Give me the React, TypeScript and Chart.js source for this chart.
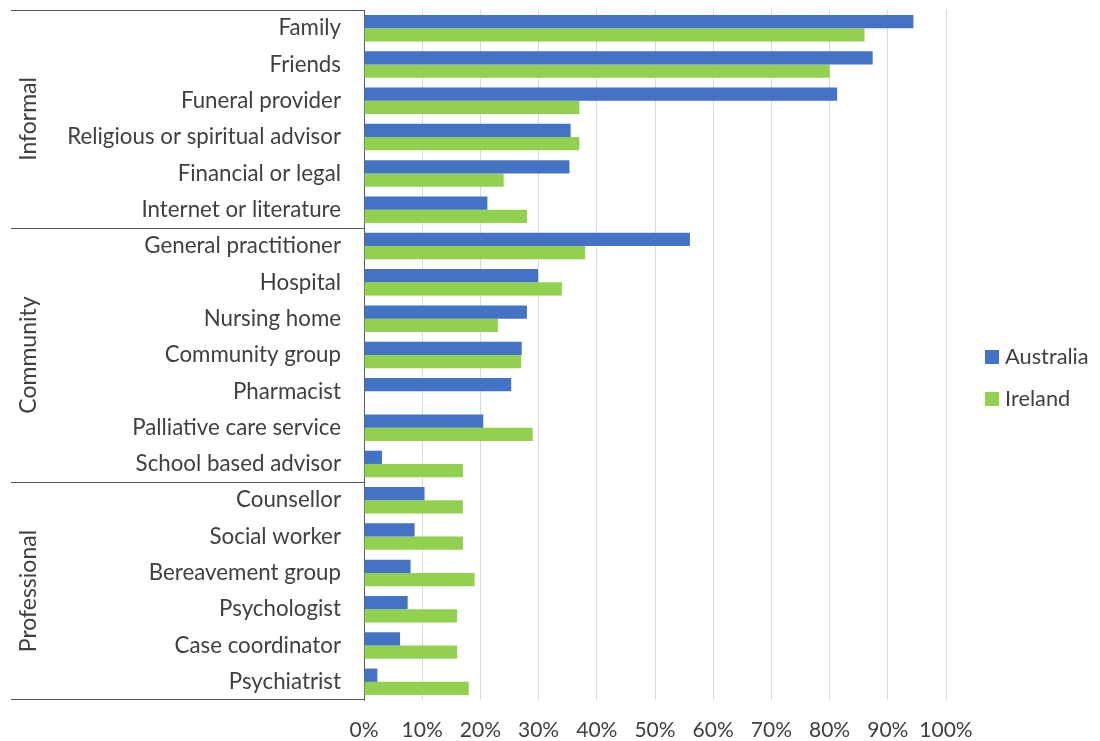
import React, { useEffect, useRef } from 'react';
import { Chart, registerables } from 'chart.js';

Chart.register(...registerables);

const categories = [
  'Family',
  'Friends',
  'Funeral provider',
  'Religious or spiritual advisor',
  'Financial or legal',
  'Internet or literature',
  'General practitioner',
  'Hospital',
  'Nursing home',
  'Community group',
  'Pharmacist',
  'Palliative care service',
  'School based advisor',
  'Counsellor',
  'Social worker',
  'Bereavement group',
  'Psychologist',
  'Case coordinator',
  'Psychiatrist',
];

const australia = [94.4, 87.4, 81.3, 35.5, 35.3, 21.2, 56.0, 29.9, 28.0, 27.1, 25.3, 20.5, 3.1, 10.4, 8.7, 8.0, 7.5, 6.2, 2.3];
const ireland = [86, 80, 37, 37, 24, 28, 38, 34, 23, 27, 0, 29, 17, 17, 17, 19, 16, 16, 18];

const groups = ['Informal', 'Community', 'Professional'];
const groupSizes = [6, 7, 6];

const seriesNames = ['Australia', 'Ireland'];
const seriesColors = ['#4472C4', '#92D050'];

const xMin = 0;
const xMax = 100;
const xStep = 10;

const FONT = 'Lato, Carlito, Calibri, "Noto Sans", sans-serif';
const LABEL_SIZE = 22.3;
const TICK_SIZE = 21;
const LEGEND_SIZE = 21.8;
const GROUP_SIZE = 23;
const TEXT_COLOR = '#404040';
const LINE_COLOR = '#595959';

const groupPlugin = {
  id: 'groupPlugin',
  afterDraw(chart: any) {
    const { ctx, chartArea } = chart;
    const y = chart.scales.y;
    const half = (y.getPixelForValue(1) - y.getPixelForValue(0)) / 2;
    ctx.save();
    ctx.strokeStyle = LINE_COLOR;
    ctx.lineWidth = 1;
    ctx.fillStyle = TEXT_COLOR;
    ctx.font = `${GROUP_SIZE}px ${FONT}`;
    ctx.textAlign = 'center';
    ctx.textBaseline = 'middle';
    let start = 0;
    const lineLeft = 11;
    groups.forEach((g, gi) => {
      const size = groupSizes[gi];
      const top = y.getPixelForValue(start) - half;
      const bottom = y.getPixelForValue(start + size - 1) + half;
      ctx.beginPath();
      ctx.moveTo(lineLeft, Math.round(top) + 0.5);
      ctx.lineTo(chartArea.left, Math.round(top) + 0.5);
      if (gi === groups.length - 1) {
        ctx.moveTo(lineLeft, Math.round(bottom) - 0.5);
        ctx.lineTo(chartArea.left, Math.round(bottom) - 0.5);
      }
      ctx.stroke();
      ctx.save();
      ctx.translate(29, (top + bottom) / 2);
      ctx.rotate(-Math.PI / 2);
      ctx.fillText(g, 0, 0);
      ctx.restore();
      start += size;
    });
    ctx.restore();
  },
};

const legendPlugin = {
  id: 'customLegend',
  afterDraw(chart: any) {
    const { ctx, chartArea } = chart;
    ctx.save();
    ctx.font = `${LEGEND_SIZE}px ${FONT}`;
    ctx.textAlign = 'left';
    ctx.textBaseline = 'middle';
    const x0 = chartArea.right + 39;
    const y0 = chartArea.top + 347;
    seriesNames.forEach((name, i) => {
      const cy = y0 + i * 42;
      ctx.fillStyle = seriesColors[i];
      ctx.fillRect(x0, cy - 7, 14, 14);
      ctx.fillStyle = TEXT_COLOR;
      ctx.fillText(name, x0 + 20, cy);
    });
    ctx.restore();
  },
};

export default function App() {
  const ref = useRef<HTMLCanvasElement | null>(null);
  useEffect(() => {
    if (!ref.current) return;
    const chart = new Chart(ref.current, {
      type: 'bar',
      data: {
        labels: categories,
        datasets: [
          {
            label: seriesNames[0],
            data: australia,
            backgroundColor: seriesColors[0],
            barPercentage: 1,
            categoryPercentage: 0.73,
          },
          {
            label: seriesNames[1],
            data: ireland,
            backgroundColor: seriesColors[1],
            barPercentage: 1,
            categoryPercentage: 0.73,
          },
        ],
      },
      options: {
        indexAxis: 'y',
        responsive: false,
        animation: false,
        devicePixelRatio: 1,
        layout: { padding: { top: 10, right: 154, left: 0, bottom: 0 } },
        plugins: {
          legend: { display: false },
          tooltip: { enabled: false },
        },
        scales: {
          x: {
            min: xMin,
            max: xMax,
            ticks: {
              stepSize: xStep,
              callback: (v: any) => `${v}%`,
              color: TEXT_COLOR,
              font: { family: FONT, size: TICK_SIZE },
              padding: 18,
              maxRotation: 0,
            },
            grid: { color: '#d9d9d9', lineWidth: 1, drawTicks: false },
            border: { display: false },
            afterFit: (scale: any) => {
              scale.height = 41;
              scale.paddingLeft = 0;
              scale.paddingRight = 0;
            },
          },
          y: {
            ticks: {
              color: TEXT_COLOR,
              font: { family: FONT, size: LABEL_SIZE },
              padding: 23,
              autoSkip: false,
            },
            grid: { display: false, drawTicks: false },
            border: { display: true, color: LINE_COLOR, width: 1 },
            afterFit: (scale: any) => {
              scale.width = 364;
              scale.paddingTop = 0;
              scale.paddingBottom = 0;
            },
          },
        },
      },
      plugins: [groupPlugin, legendPlugin],
    });
    return () => chart.destroy();
  }, []);
  return (
    <div style={{ position: 'fixed', left: 0, top: 0, width: 1100, height: 741, background: '#fff' }}>
      <canvas ref={ref} width={1100} height={741} style={{ display: 'block' }} />
    </div>
  );
}
